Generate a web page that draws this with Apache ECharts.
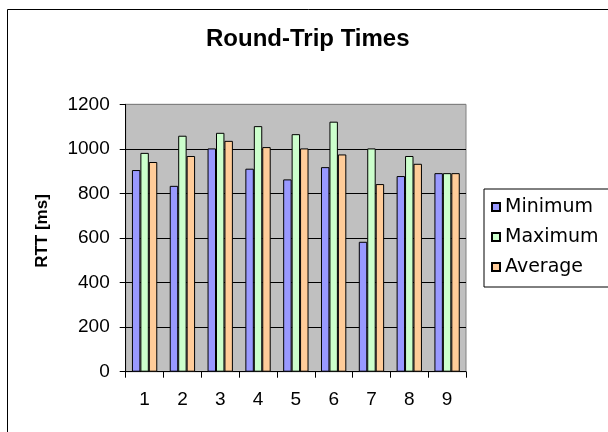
<!DOCTYPE html>
<html>
<head>
<meta charset="utf-8">
<script src="https://cdn.jsdelivr.net/npm/echarts@6/dist/echarts.min.js"></script>
<style>
  html, body { margin: 0; padding: 0; background: #fff; }
  #chart { width: 608px; height: 432px; }
</style>
</head>
<body>
<div id="chart"></div>
<script>
// Round-trip time measurements per run (ms)
const runs = ['1', '2', '3', '4', '5', '6', '7', '8', '9'];
const minimum = [905, 834, 1002, 911, 863, 918, 583, 878, 891];
const maximum = [982, 1059, 1072, 1102, 1066, 1122, 1002, 968, 891];
const average = [941, 968, 1036, 1008, 1002, 975, 842, 933, 891];
const seriesNames = ['Minimum', 'Maximum', 'Average'];
const seriesColors = ['#9999FF', '#CCFFCC', '#FFCC99'];

const FONT = '"Liberation Sans", Arial, sans-serif';

const chart = echarts.init(document.getElementById('chart'), null, { renderer: 'canvas' });

function barSeries(name, data, color) {
  return {
    name: name,
    type: 'bar',
    data: data,
    barGap: '0%',
    barCategoryGap: '33%',
    itemStyle: { color: color, borderColor: '#000', borderWidth: 1 }
  };
}

chart.setOption({
  animation: false,
  backgroundColor: '#fff',
  title: {
    text: 'Round-Trip Times',
    left: 206,
    top: 27,
    padding: 0,
    textStyle: { fontFamily: FONT, fontSize: 24, fontWeight: 'bold', color: '#000' }
  },
  legend: {
    orient: 'vertical',
    left: 484,
    top: 189,
    padding: [8.5, 10, 10.5, 7],
    itemWidth: 8,
    itemHeight: 8,
    itemGap: 11,
    icon: 'rect',
    backgroundColor: '#fff',
    borderColor: '#000',
    borderWidth: 1,
    borderRadius: 0,
    selectedMode: false,
    data: seriesNames,
    textStyle: { fontFamily: '"DejaVu Sans", sans-serif', fontSize: 19, color: '#000' }
  },
  grid: {
    left: 125.7,
    top: 104.3,
    width: 340.3,
    height: 267.4,
    show: true,
    backgroundColor: '#C0C0C0',
    borderColor: '#808080',
    borderWidth: 1
  },
  xAxis: {
    type: 'category',
    data: runs,
    boundaryGap: true,
    axisLine: { lineStyle: { color: '#000', width: 1 } },
    axisTick: { show: true, length: 6, alignWithLabel: false, lineStyle: { color: '#000' } },
    axisLabel: { margin: 19, fontFamily: FONT, fontSize: 19, color: '#000' },
    splitLine: { show: false }
  },
  yAxis: {
    type: 'value',
    min: 0,
    max: 1200,
    interval: 200,
    axisLine: { show: true, lineStyle: { color: '#000', width: 1 } },
    axisTick: { show: true, length: 6, lineStyle: { color: '#000' } },
    axisLabel: {
      margin: 16,
      fontFamily: FONT,
      fontSize: 19,
      color: '#000',
      formatter: function (v) { return String(v); }
    },
    splitLine: {
      show: true,
      lineStyle: { color: ['#000', '#000', '#000', '#000', '#000', '#000', '#808080'], width: 1 }
    }
  },
  graphic: [
    {
      type: 'rect',
      shape: { x: 7.5, y: 9.5, width: 700, height: 500 },
      style: { fill: 'none', stroke: '#000', lineWidth: 1 },
      silent: true,
      z: 100
    },
    {
      type: 'text',
      x: 42,
      y: 231,
      rotation: Math.PI / 2,
      style: {
        text: 'RTT [ms]',
        font: 'bold 17px ' + FONT,
        fill: '#000',
        align: 'center',
        verticalAlign: 'middle'
      }
    }
  ],
  series: [
    barSeries(seriesNames[0], minimum, seriesColors[0]),
    barSeries(seriesNames[1], maximum, seriesColors[1]),
    barSeries(seriesNames[2], average, seriesColors[2])
  ]
});
</script>
</body>
</html>
